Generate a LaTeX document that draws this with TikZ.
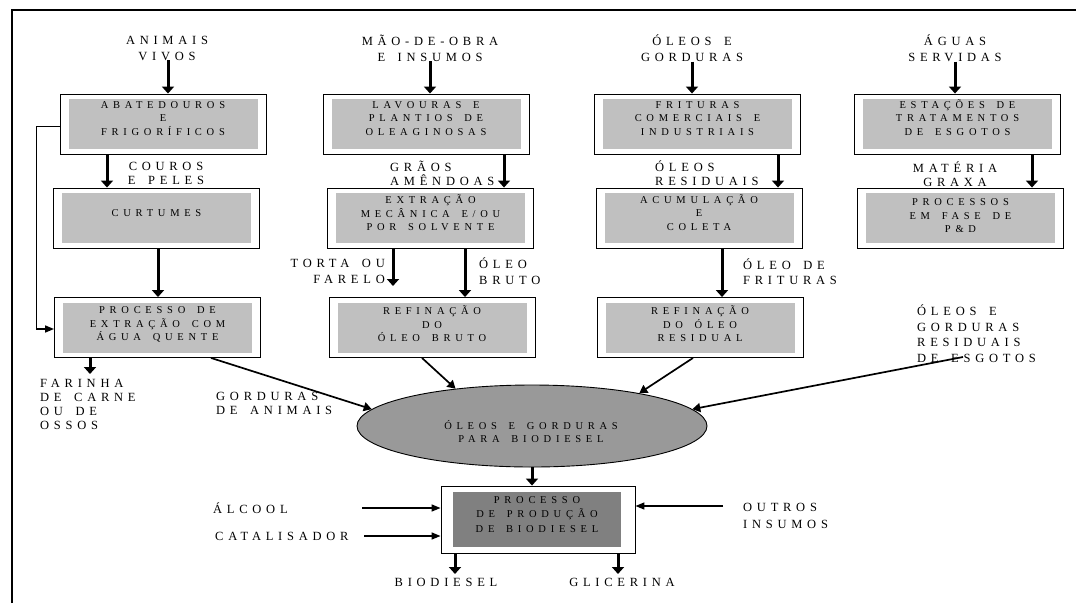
\documentclass[tikz,border=0pt]{standalone}
\usepackage{fontspec}
\usetikzlibrary{arrows.meta,shapes.geometric,calc}
\setmainfont{Liberation Serif}
\newfontfamily\lblfont{Liberation Serif}[LetterSpace=38,WordSpace=1.6]
\newfontfamily\boxfont{Liberation Serif}[LetterSpace=45,WordSpace=1.6]
\definecolor{boxgray}{HTML}{C0C0C0}
\definecolor{ellgray}{HTML}{999999}
\definecolor{prodgray}{HTML}{808080}
\tikzset{
  outerbox/.style={draw, line width=0.9pt, fill=white, minimum width=206pt, minimum height=60pt, inner sep=0pt},
  innerbox/.style={fill=boxgray, minimum width=189pt, minimum height=50pt, inner sep=0pt},
  btxt/.style={font=\boxfont\fontsize{10.5}{13.5}\selectfont, align=center, inner sep=0pt},
  ltxt/.style={font=\lblfont\fontsize{12.5}{16}\selectfont, align=center, inner sep=0pt},
  ltxtl/.style={font=\lblfont\fontsize{12.5}{14}\selectfont, align=left, inner sep=0pt, anchor=west},
  bigarrow/.style={line width=3pt, -{Triangle[width=12pt,length=7pt]}},
  slantarrow/.style={line width=1.7pt, -{Triangle[width=9pt,length=8pt]}},
  sidearrow/.style={line width=1.5pt, -{Triangle[width=7pt,length=9pt]}},
  thinline/.style={line width=1pt},
}
\newcommand\flowbox[5]{%
  \node[outerbox] (#1) at (#2,#3) {};
  \node[innerbox] at (#2,#3) {};
  \node[btxt] (#1t) at (#2,#4) {#5};
}
\begin{document}
\begin{tikzpicture}[x=1pt,y=-1pt]
\useasboundingbox (0,0) rectangle (1076,603);
% frame
\coordinate (frbl) at (12,603);
\coordinate (frtl) at (12,10);
\coordinate (frtr) at (1076,10);
\draw[line width=2pt] (frbl) -- (frtl) -- (frtr);

% top labels
\node[ltxt] (animais) at (167,48) {ANIMAIS\\VIVOS};
\node[ltxt] (maoobra) at (430,48) {MÃO-DE-OBRA\\E INSUMOS};
\node[ltxt] (oleosg) at (692,48) {ÓLEOS E\\GORDURAS};
\node[ltxt] (aguas) at (955,48) {ÁGUAS\\SERVIDAS};

% boxes row 1
\flowbox{abat}{163}{124}{118.5}{ABATEDOUROS\\E\\FRIGORÍFICOS}
\flowbox{lav}{426}{124}{118.5}{LAVOURAS E\\PLANTIOS DE\\OLEAGINOSAS}
\flowbox{frit}{697.5}{124}{118.5}{FRITURAS\\COMERCIAIS E\\INDUSTRIAIS}
\flowbox{est}{957.5}{124}{117.5}{ESTAÇÕES DE\\TRATAMENTOS\\DE ESGOTOS}

% boxes row 2
\flowbox{curt}{156.5}{218}{213}{CURTUMES}
\flowbox{extr}{430.5}{218}{213}{EXTRAÇÃO\\MECÂNICA E/OU\\POR SOLVENTE}
\flowbox{acum}{699}{218}{212.5}{ACUMULAÇÃO\\E\\COLETA}
\flowbox{pd}{960.5}{218}{216}{PROCESSOS\\EM FASE DE\\P\&D}

% boxes row 3
\flowbox{proc}{157.5}{327.5}{324.5}{PROCESSO DE\\EXTRAÇÃO COM\\ÁGUA QUENTE}
\flowbox{refb}{432}{327.5}{324}{REFINAÇÃO\\DO\\ÓLEO BRUTO}
\flowbox{refr}{700}{327.5}{324}{REFINAÇÃO\\DO ÓLEO\\RESIDUAL}

% mid labels
\node[ltxt, font=\lblfont\fontsize{12.5}{14}\selectfont] (couros) at (166,173) {COUROS\\E PELES};
\node[ltxtl, font=\lblfont\fontsize{12.5}{13.5}\selectfont] (graos) at (390,173.5) {GRÃOS\\AMÊNDOAS};
\node[ltxtl] (oleosres) at (655,173) {ÓLEOS\\RESIDUAIS};
\node[ltxt, font=\lblfont\fontsize{12.5}{14}\selectfont] (materia) at (955,174) {MATÉRIA\\GRAXA};
\node[ltxt, align=right, anchor=east, font=\lblfont\fontsize{12.5}{16}\selectfont] (torta) at (385,271) {TORTA OU\\FARELO};
\node[ltxtl, font=\lblfont\fontsize{12.5}{16}\selectfont] (oleobruto) at (479,271) {ÓLEO\\BRUTO};
\node[ltxtl, font=\lblfont\fontsize{12.5}{15.5}\selectfont] (oleofrit) at (743,271.5) {ÓLEO DE\\FRITURAS};
\node[ltxtl] (farinha) at (40,404) {FARINHA\\DE CARNE\\OU DE\\OSSOS};
\node[ltxtl, font=\lblfont\fontsize{12.5}{13.5}\selectfont] (gordanim) at (216,403.5) {GORDURAS\\DE ANIMAIS};
\node[ltxtl, font=\lblfont\fontsize{12.5}{15.5}\selectfont] (esgotos) at (917,333.5) {ÓLEOS E\\GORDURAS\\RESIDUAIS\\DE ESGOTOS};

% ellipse
\node[ellipse, draw, line width=0.9pt, fill=ellgray, minimum width=350pt, minimum height=82pt, inner sep=0pt] (ell) at (532,426) {};
\node[btxt] (ellt) at (531,431.5) {ÓLEOS E GORDURAS\\PARA BIODIESEL};

% production box
\node[outerbox, minimum width=194pt, minimum height=67pt] (prod) at (538,519.5) {};
\node[fill=prodgray, minimum width=168pt, minimum height=55pt, inner sep=0pt] (prodin) at (537,519.5) {};
\node[btxt, font=\boxfont\fontsize{10.5}{14.5}\selectfont] (prodt) at (537,514.5) {PROCESSO\\DE PRODUÇÃO\\DE BIODIESEL};

% bottom labels
\node[ltxtl] (alcool) at (213,508) {ÁLCOOL};
\node[ltxtl] (catal) at (215,536) {CATALISADOR};
\node[ltxtl, font=\lblfont\fontsize{12.5}{17}\selectfont] (outros) at (743,515.5) {OUTROS\\INSUMOS};
\node[ltxt] (biodiesel) at (446,582) {BIODIESEL};
\node[ltxt] (glicerina) at (622,582) {GLICERINA};

% free ends
\coordinate (tortaend) at (393,286);
\coordinate (farend) at (90,374);
\coordinate (bioend) at (455,574);
\coordinate (glicend) at (618,574);
\coordinate (alcst) at (362,508);
\coordinate (catst) at (364,536);
\coordinate (outst) at (723,506);
\coordinate (esgst) at (963,357);
\coordinate (brk1) at (36,126);
\coordinate (brk2) at (36,329);

% vertical arrows
\draw[bigarrow] (animais.south -| 168,0) -- (abat.north -| 168,0);
\draw[bigarrow] (maoobra.south -| 430,0) -- (lav.north -| 430,0);
\draw[bigarrow] (oleosg.south -| 692,0) -- (frit.north -| 692,0);
\draw[bigarrow] (aguas.south -| 955,0) -- (est.north -| 955,0);
\draw[bigarrow] (abat.south -| 107,0) -- (curt.north -| 107,0);
\draw[bigarrow] (lav.south -| 504,0) -- (extr.north -| 504,0);
\draw[bigarrow] (frit.south -| 778,0) -- (acum.north -| 778,0);
\draw[bigarrow] (est.south -| 1032,0) -- (pd.north -| 1032,0);
\draw[bigarrow] (curt.south -| 158,0) -- (proc.north -| 158,0);
\draw[bigarrow] (extr.south -| 393,0) -- (tortaend);
\draw[bigarrow] (extr.south -| 465,0) -- (refb.north -| 465,0);
\draw[bigarrow] (acum.south -| 722,0) -- (refr.north -| 722,0);
\draw[bigarrow] (proc.south -| 90,0) -- (farend);

% bracket
\draw[thinline] (abat.west |- brk1) -- (brk1) -- (brk2);
\draw[sidearrow] (brk2) -- (proc.west |- brk2);

% into ellipse
\draw[slantarrow] (proc.south -| 211,0) -- (ell.174);
\draw[slantarrow] (refb.south -| 422,0) -- (ell.154);
\draw[slantarrow] (refr.south -| 693,0) -- (ell.17);
\draw[slantarrow] (esgst) -- (ell.6);

% production
\draw[bigarrow] (ell.south) -- (prod.north -| ell.south);
\draw[sidearrow] (alcst) -- (prod.west |- alcst);
\draw[sidearrow] (catst) -- (prod.west |- catst);
\draw[sidearrow] (outst) -- (prod.east |- outst);
\draw[bigarrow] (prod.south -| bioend) -- (bioend);
\draw[bigarrow] (prod.south -| glicend) -- (glicend);
\end{tikzpicture}
\end{document}
